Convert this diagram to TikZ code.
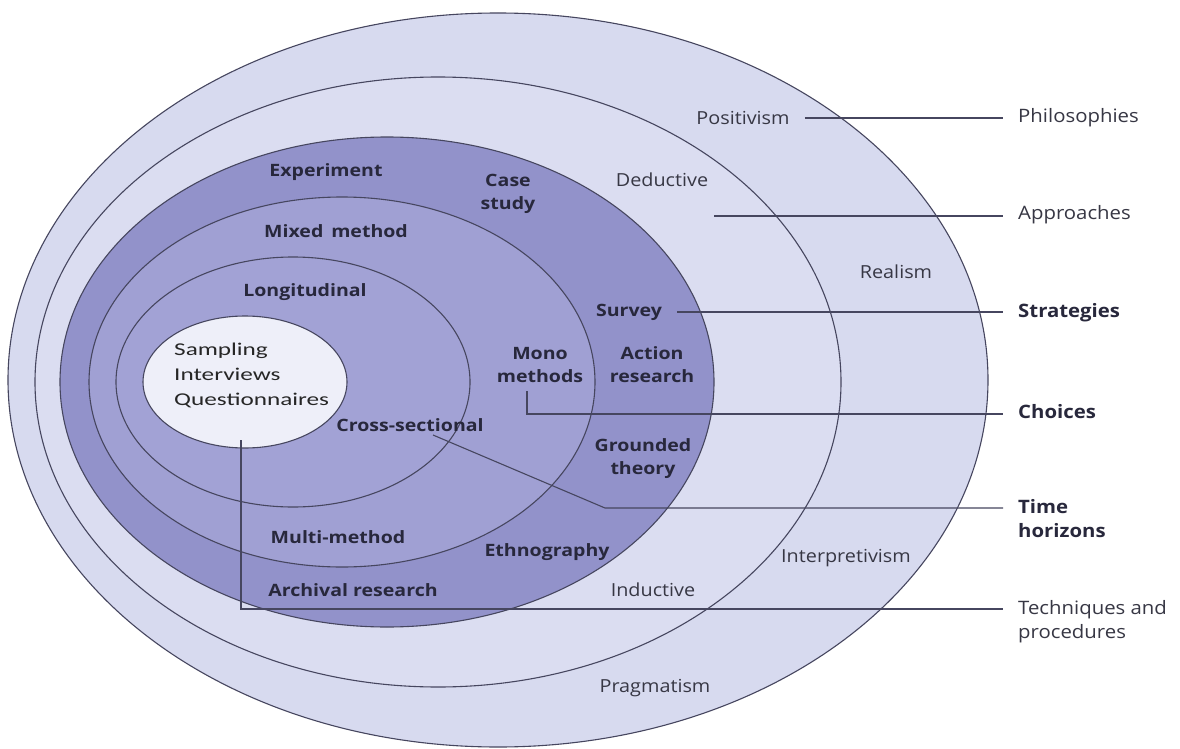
\documentclass[tikz,border=0pt]{standalone}
\usepackage{fontspec}
\setmainfont{Open Sans}
\newfontfamily\outerfont[FakeStretch=1.1]{Open Sans}
\newfontfamily\innerfont[FakeStretch=1.15]{Open Sans}
\newfontfamily\calib[FakeStretch=1.4]{Carlito}
\definecolor{ringA}{RGB}{215,218,239}
\definecolor{ringB}{RGB}{219,221,241}
\definecolor{ringC}{RGB}{146,146,202}
\definecolor{ringD}{RGB}{160,160,211}
\definecolor{ringE}{RGB}{162,162,213}
\definecolor{core}{RGB}{238,239,249}
\definecolor{edge}{RGB}{70,70,95}
\definecolor{txt}{RGB}{55,55,68}
\definecolor{txtb}{RGB}{40,40,60}
\begin{document}
\begin{tikzpicture}[x=1pt,y=-1pt,
  ring/.style={draw=edge,line width=1.1pt},
  conn/.style={draw=edge,line width=1.1pt},
  outerlbl/.style={text=txt,font=\outerfont\fontsize{18}{23}\selectfont,inner sep=3pt,align=center},
  innerlbl/.style={text=txtb,font=\innerfont\fontsize{17}{23}\selectfont\bfseries,inner sep=3pt,align=center},
  sidelbl/.style={text=txt,font=\outerfont\fontsize{18.5}{24}\selectfont,inner sep=3pt,align=left,anchor=west},
  sidebold/.style={sidelbl,text=txtb,font=\outerfont\fontsize{18.5}{24}\selectfont\bfseries}]
\fill[white] (0,0) rectangle (1180,749);
\useasboundingbox (0,0) rectangle (1180,749);
% rings
\draw[ring,fill=ringA] (498,380) ellipse [x radius=490pt, y radius=367pt];
\draw[ring,fill=ringB] (438,382) ellipse [x radius=403pt, y radius=305pt];
\draw[ring,fill=ringC] (387,382) ellipse [x radius=327pt, y radius=245pt];
\draw[ring,fill=ringD] (342,382) ellipse [x radius=253pt, y radius=185pt];
\draw[ring,fill=ringE] (293,382) ellipse [x radius=177pt, y radius=125pt];
\draw[ring,fill=core] (245,382) ellipse [x radius=102pt, y radius=66pt];
% philosophies / approaches labels
\node[outerlbl] (pos) at (743,118) {Positivism};
\node[outerlbl] (ded) at (662,180) {Deductive};
\node[outerlbl] (rea) at (896,272) {Realism};
\node[outerlbl] (intp) at (846,558) {Interpretivism};
\node[outerlbl] (ind) at (653,590) {Inductive};
\node[outerlbl] (prag) at (655,688) {Pragmatism};
% strategies / choices / time horizons
\node[innerlbl] (exp) at (326,172) {Experiment};
\node[innerlbl] (case) at (508,194) {Case\\study};
\node[innerlbl] (mixed) at (336,231) {Mixed\, method};
\node[innerlbl] (long) at (305,292) {Longitudinal};
\node[innerlbl] (surv) at (629,312) {Survey};
\node[innerlbl] (mono) at (540,365) {Mono\\methods};
\node[innerlbl] (act) at (652,365) {Action\\research};
\node[innerlbl] (cross) at (410,425) {Cross-sectional};
\node[innerlbl] (grnd) at (643,459) {Grounded\\theory};
\node[innerlbl] (multi) at (338,537) {Multi-method};
\node[innerlbl] (eth) at (547,552) {Ethnography};
\node[innerlbl] (arch) at (353,590) {Archival research};
% core
\node[text=black!85,font=\calib\fontsize{18}{25}\selectfont,align=left,anchor=north west,inner sep=0pt] (core) at (174,343) {Sampling\\Interviews\\Questionnaires};
% side labels
\node[sidelbl] (phil) at (1015,118) {Philosophies};
\node[sidelbl] (appr) at (1015,215) {Approaches};
\node[sidebold] (strat) at (1015,313) {Strategies};
\node[sidebold] (choi) at (1015,412) {Choices};
\node[sidebold] (time) at (1015,519) {Time\\horizons};
\node[sidelbl] (tech) at (1015,622) {Techniques and\\procedures};
% connectors
\draw[conn,shorten <=12pt,shorten >=12pt] (pos.east) -- (pos.east -| phil.west);
\coordinate (a1) at (714,216);
\draw[conn,shorten >=12pt] (a1) -- (a1 -| appr.west);
\draw[conn,shorten <=12pt,shorten >=12pt] (surv.east) -- (surv.east -| strat.west);
\coordinate (m1) at (527,391);
\coordinate (m2) at (527,414);
\draw[conn,shorten >=12pt] (m1) -- (m2) -- (m2 -| choi.west);
\coordinate (c1) at (433,435);
\coordinate (c2) at (605,508);
\draw[conn,shorten >=12pt] (c1) -- (c2) -- (c2 -| time.west);
\coordinate (t1) at (241,440);
\coordinate (t2) at (241,609);
\draw[conn,shorten >=12pt] (t1) -- (t2) -- (t2 -| tech.west);
\end{tikzpicture}
\end{document}
